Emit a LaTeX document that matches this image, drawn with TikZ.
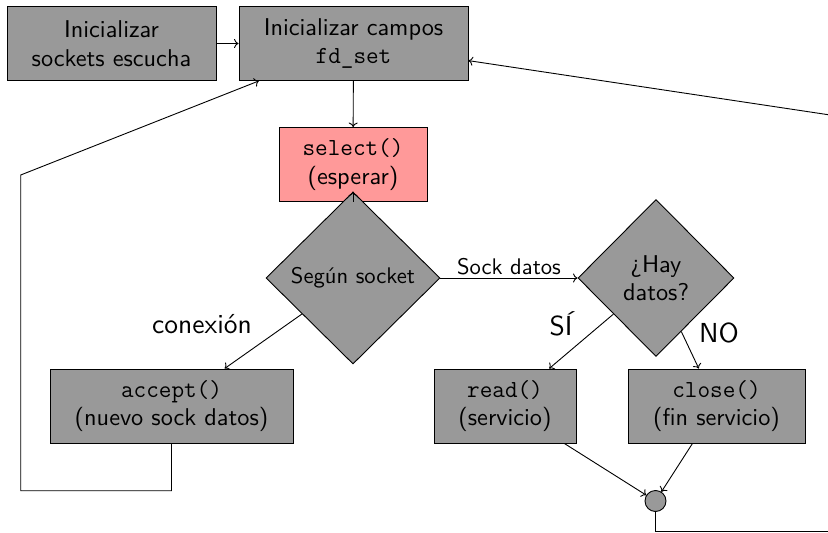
\documentclass[tikz,border=0pt]{standalone}
\usepackage{fontspec}
\usetikzlibrary{shapes.geometric, arrows.meta}

% Latin Modern at fixed design sizes, scaled up
\setsansfont{lmsans10-regular.otf}
\setmonofont{lmmono12-regular.otf}

\definecolor{boxgray}{RGB}{153,153,153}
\definecolor{selpink}{RGB}{255,153,153}

\newcommand\mainfs{\fontsize{24.3}{28.6}\selectfont}
\newcommand\smallfs{\fontsize{22.6}{27}\selectfont}
\newcommand\bigfs{\fontsize{27.5}{33}\selectfont}
\newcommand\code[1]{{\fontsize{24.5}{28.6}\selectfont\ttfamily #1}}

\tikzset{
  proc/.style={draw=black, fill=boxgray, line width=0.9pt, minimum height=74pt,
    inner sep=0pt, align=center, font=\mainfs\sffamily},
  cond/.style={diamond, draw=black, fill=boxgray, line width=0.9pt, inner sep=0pt,
    align=center},
  joint/.style={circle, draw=black, fill=boxgray, line width=0.9pt,
    minimum size=21pt, inner sep=0pt},
  flow/.style={-{To[length=4.5pt, width=9pt]}, line width=0.9pt},
  lbl/.style={font=\bigfs\sffamily, anchor=base, inner sep=0pt}
}

\begin{document}
\begin{tikzpicture}[x=1pt, y=-1pt]
  \useasboundingbox (0,0) rectangle (828,533);

  % boxes
  \node[proc, minimum width=209pt] (init)   at (111.5,43.5) {Inicializar\\sockets escucha};
  \node[proc, minimum width=229pt] (fdset)  at (353.5,43.5) {Inicializar campos\\\code{fd\_set}};
  \node[proc, fill=selpink, minimum width=148pt] (select) at (353,164.5) {\code{select()}\\(esperar)};
  \node[proc, minimum width=243pt] (accept) at (171.5,406) {\code{accept()}\\(nuevo sock datos)};
  \node[proc, minimum width=142pt] (read)   at (505,406) {\code{read()}\\(servicio)};
  \node[proc, minimum width=177pt] (close)  at (716.5,406) {\code{close()}\\(fin servicio)};

  % decisions
  \node[cond, minimum width=174pt, minimum height=172pt, font=\smallfs\sffamily] (seg) at (353,278) {Según socket};
  \node[cond, minimum width=156pt, minimum height=157pt, font=\mainfs\sffamily] (hay) at (656,278) {¿Hay\\datos?};

  % merge point
  \node[joint] (circ) at (655.5,501) {};

  % return path corners
  \coordinate (l1) at (171.5,490.7);
  \coordinate (l2) at (20.7,490.7);
  \coordinate (l3) at (20.7,175);
  \coordinate (r1) at (655.5,531.5);
  \coordinate (r2) at (900,531.5);
  \coordinate (r3) at (900,125.5);

  % connectors
  \draw[flow] (init) -- (fdset);
  \draw[flow] (fdset) -- (select);
  \draw[flow] (select) -- (seg);
  \draw[flow] (seg) -- (accept);
  \draw[flow] (seg) -- node[above, font=\smallfs\sffamily, inner sep=3pt] {Sock datos} (hay);
  \draw[flow] (hay) -- (read);
  \draw[flow] (hay) -- (close);
  \draw[flow] (read) -- (circ);
  \draw[flow] (close) -- (circ);
  \draw[flow] (accept.south) -- (l1) -- (l2) -- (l3) -- (fdset);
  \draw[flow] (circ.south) -- (r1) -- (r2) -- (r3) -- (fdset);

  % branch labels
  \node[lbl] (lcon) at (202,333) {conexión};
  \node[lbl] (lsi)  at (561,335) {SÍ};
  \node[lbl] (lno)  at (719,342.7) {NO};
\end{tikzpicture}
\end{document}
